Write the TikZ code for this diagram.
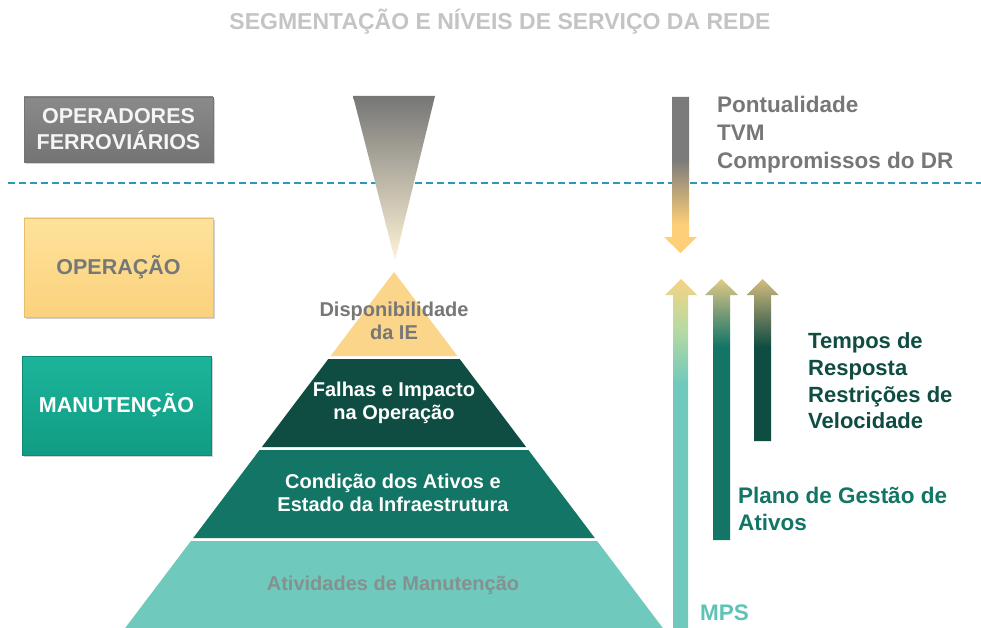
\documentclass[tikz,border=0pt]{standalone}
\usepackage{fontspec}
\setmainfont{Liberation Sans}
\usetikzlibrary{shadows}
\definecolor{titlegray}{HTML}{C4C4C4}
\definecolor{dashblue}{HTML}{2B9AB5}
\definecolor{boxgrayA}{HTML}{8A8A8A}
\definecolor{boxgrayB}{HTML}{747474}
\definecolor{boxyelA}{HTML}{FEE29C}
\definecolor{boxyelB}{HTML}{FBD27C}
\definecolor{boxyelD}{HTML}{E8BE68}
\definecolor{boxtealA}{HTML}{1BB59B}
\definecolor{boxtealB}{HTML}{119C84}
\definecolor{boxtealD}{HTML}{0E8A74}
\definecolor{txtgray}{HTML}{777777}
\definecolor{lyrA}{HTML}{FBD58A}
\definecolor{lyrB}{HTML}{0F4C42}
\definecolor{lyrC}{HTML}{127565}
\definecolor{lyrD}{HTML}{70C9BD}
\definecolor{ativtxt}{HTML}{84918F}
\definecolor{funtop}{HTML}{767676}
\definecolor{funmid}{HTML}{C9BDA4}
\definecolor{funbot}{HTML}{FFF3D6}
\definecolor{arrGray}{HTML}{7B7B7B}
\definecolor{arrOrange}{HTML}{FDCF78}
\definecolor{arrYel}{HTML}{F6D283}
\definecolor{arrTan}{HTML}{E2CB88}
\definecolor{arrTan2}{HTML}{D4BE7C}
\definecolor{arrLGreen}{HTML}{B8DAA2}
\definecolor{arrMid2}{HTML}{7F9E78}
\definecolor{arrMid3}{HTML}{6B7D5E}
\definecolor{greentxt}{HTML}{0F4C42}
\definecolor{plantxt}{HTML}{127565}
\definecolor{mpstxt}{HTML}{5EC3B4}
\pgfdeclareverticalshading{downarr}{100bp}{color(0bp)=(arrOrange); color(34bp)=(arrOrange); color(55bp)=(arrGray); color(100bp)=(arrGray)}
\pgfdeclareverticalshading{uparrA}{100bp}{color(0bp)=(lyrD); color(60bp)=(lyrD); color(68bp)=(arrLGreen); color(75bp)=(arrYel); color(100bp)=(arrYel)}
\pgfdeclareverticalshading{uparrB}{100bp}{color(0bp)=(lyrC); color(62bp)=(lyrC); color(69bp)=(arrMid2); color(75bp)=(arrTan); color(100bp)=(arrTan)}
\pgfdeclareverticalshading{uparrC}{100bp}{color(0bp)=(lyrB); color(54bp)=(lyrB); color(64bp)=(arrMid3); color(75bp)=(arrTan2); color(100bp)=(arrTan2)}
\tikzset{
  lbox/.style={minimum width=189pt, minimum height=#1, inner sep=0pt, align=center,
    font=\fontsize{21.5}{26}\selectfont\bfseries,
    drop shadow={shadow xshift=1.5pt, shadow yshift=-2pt, opacity=.35}},
  ptext/.style={align=center, font=\fontsize{20}{23}\selectfont\bfseries, inner sep=0pt},
  rtext/.style={align=left, anchor=west, font=\fontsize{22.5}{27}\selectfont\bfseries, inner sep=0pt},
}
\begin{document}
\begin{tikzpicture}[x=1pt,y=-1pt]
\useasboundingbox (0,0) rectangle (981,628);
\fill[white] (0,0) rectangle (981,628);
\clip (0,0) rectangle (981,628);

% title
\node[font=\fontsize{23}{27}\selectfont\bfseries, text=titlegray, inner sep=0pt] (title) at (500,22) {SEGMENTAÇÃO E NÍVEIS DE SERVIÇO DA REDE};

% dashed separator
\coordinate (dl) at (8,183);
\coordinate (dr) at (981,183);
\draw[dashblue, line width=1.8pt, dash pattern=on 7pt off 4pt] (dl) -- (dr);

% left boxes
\node[lbox=65pt, top color=boxgrayA, bottom color=boxgrayB, draw=boxgrayB, text=white!92!gray] (opf) at (118.5,129.5) {OPERADORES\\FERROVIÁRIOS};
\node[lbox=99pt, top color=boxyelA, bottom color=boxyelB, draw=boxyelD, text=txtgray] (oper) at (118.5,267.5) {OPERAÇÃO};
\node[lbox=99pt, top color=boxtealA, bottom color=boxtealB, draw=boxtealD, text=white] (manut) at (116.5,405.5) {MANUTENÇÃO};

% funnel
\shade[top color=funtop, middle color=funmid, bottom color=funbot] (353,96) -- (435,96) -- (395,260) -- cycle;

% pyramid layers
\fill[lyrA] (394,272) -- (457.4,356) -- (330.6,356) -- cycle;
\fill[lyrB] (328.3,359) -- (459.7,359) -- (526.1,447) -- (261.9,447) -- cycle;
\fill[lyrC] (259.6,450) -- (528.4,450) -- (594.8,538) -- (193.2,538) -- cycle;
\fill[lyrD] (190.9,541) -- (597.1,541) -- (662.8,628) -- (125.2,628) -- cycle;

\node[ptext, text=txtgray] (disp) at (394,321) {Disponibilidade\\da IE};
\node[ptext, text=white] (falhas) at (394,403) {Falhas e Impacto\\na Operação};
\node[ptext, text=white] (cond) at (393,493) {Condição dos Ativos e\\Estado da Infraestrutura};
\node[ptext, text=ativtxt] (ativ) at (393,585) {Atividades de Manutenção};

% right arrows
\shade[shading=downarr] (672,97) -- (689,97) -- (689,237) -- (697,237) -- (680.5,253) -- (664,237) -- (672,237) -- cycle;
\shade[shading=uparrA] (673,628) -- (673,295) -- (665,295) -- (681,279) -- (697,295) -- (688,295) -- (688,628) -- cycle;
\shade[shading=uparrB] (713,540) -- (713,295) -- (705,295) -- (721.5,279) -- (738,295) -- (730,295) -- (730,540) -- cycle;
\shade[shading=uparrC] (754,441) -- (754,295) -- (746.5,295) -- (762.5,279) -- (778.5,295) -- (771,295) -- (771,441) -- cycle;

% right texts
\node[rtext, text=txtgray, font=\fontsize{22.5}{28}\selectfont\bfseries] (pont) at (717,135) {Pontualidade\\TVM\\Compromissos do DR};
\node[rtext, text=greentxt, font=\fontsize{22}{26.7}\selectfont\bfseries] (tempos) at (808,381) {Tempos de\\Resposta\\Restrições de\\Velocidade};
\node[rtext, text=plantxt] (plano) at (738,508.5) {Plano de Gestão de\\Ativos};
\node[rtext, text=mpstxt] (mps) at (700,613) {MPS};
\end{tikzpicture}
\end{document}
